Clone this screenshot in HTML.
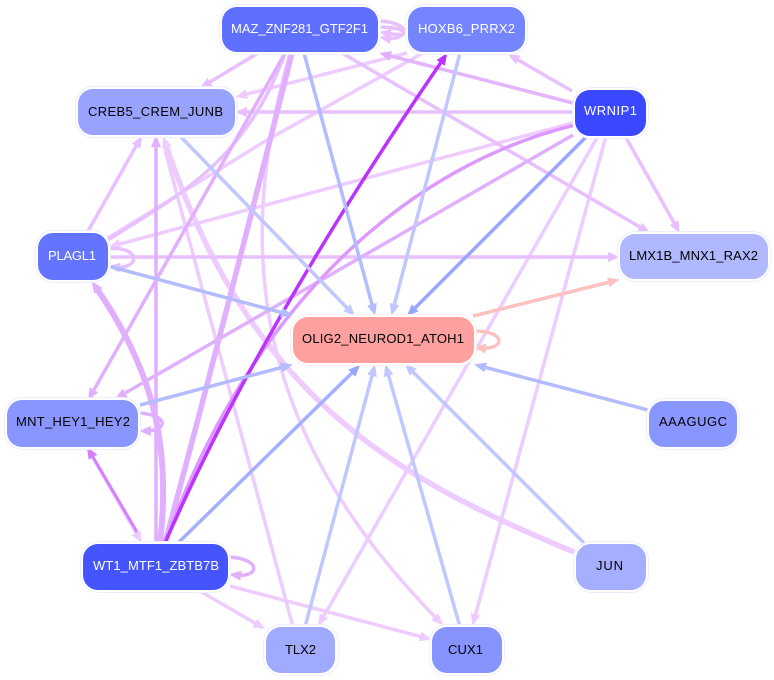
<!DOCTYPE html>
<html><head><meta charset="utf-8"><style>
html,body{margin:0;padding:0;background:#fff}
svg{display:block}
text{font-family:"Liberation Sans",sans-serif;font-size:13px;text-anchor:start}
.e{fill:none;stroke-linecap:butt}
</style></head><body>
<svg width="774" height="680" viewBox="0 0 774 680" xmlns="http://www.w3.org/2000/svg">
<defs>
<marker id="a" markerUnits="userSpaceOnUse" markerWidth="13" markerHeight="11" refX="6" refY="5" orient="auto"><path d="M0 0L12 5L0 10z" fill="#e8c0ff"/></marker>
<marker id="b" markerUnits="userSpaceOnUse" markerWidth="13" markerHeight="11" refX="6" refY="5" orient="auto"><path d="M0 0L12 5L0 10z" fill="#eeccff"/></marker>
<marker id="c" markerUnits="userSpaceOnUse" markerWidth="13" markerHeight="11" refX="6" refY="5" orient="auto"><path d="M0 0L12 5L0 10z" fill="#e0b0ff"/></marker>
<marker id="d" markerUnits="userSpaceOnUse" markerWidth="13" markerHeight="11" refX="6" refY="5" orient="auto"><path d="M0 0L12 5L0 10z" fill="#d580ff"/></marker>
<marker id="e" markerUnits="userSpaceOnUse" markerWidth="13" markerHeight="11" refX="6" refY="5" orient="auto"><path d="M0 0L12 5L0 10z" fill="#bb33ff"/></marker>
<marker id="f" markerUnits="userSpaceOnUse" markerWidth="13" markerHeight="11" refX="6" refY="5" orient="auto"><path d="M0 0L12 5L0 10z" fill="#b3bcff"/></marker>
<marker id="g" markerUnits="userSpaceOnUse" markerWidth="13" markerHeight="11" refX="6" refY="5" orient="auto"><path d="M0 0L12 5L0 10z" fill="#c0c8ff"/></marker>
<marker id="h" markerUnits="userSpaceOnUse" markerWidth="13" markerHeight="11" refX="6" refY="5" orient="auto"><path d="M0 0L12 5L0 10z" fill="#9aa5ff"/></marker>
<marker id="i" markerUnits="userSpaceOnUse" markerWidth="13" markerHeight="11" refX="6" refY="5" orient="auto"><path d="M0 0L12 5L0 10z" fill="#ffc0c0"/></marker>
</defs>

<!-- lightest purple -->
<g class="e" stroke="#eeccff" stroke-width="3.500">
<path d="M407 53L241 95.500" marker-end="url(#b)"/>
<path d="M598 136L321 621" marker-end="url(#b)"/>
<path d="M293 627L165 150"/>
<path d="M290 53C240 230 240 420 439 621" marker-end="url(#b)"/>
<path d="M573 123L114 245.500" marker-end="url(#b)"/>
<path d="M574 552C400 480 250 400 165 142" stroke-width="5.500" marker-end="url(#b)"/>
<path d="M198 590L260 626" marker-end="url(#b)"/>
<path d="M230 586L426 638" marker-end="url(#b)"/>
<path d="M423 53L267 140L108 238"/>
<path d="M88 449L139 538" marker-end="url(#b)"/>
<path d="M606 136L474 620" marker-end="url(#b)"/>
</g>

<!-- medium light purple -->
<g class="e" stroke="#e8c0ff" stroke-width="3.500">
<path d="M258 53L205 85" marker-end="url(#a)"/>
<path d="M573 112L241 112" marker-end="url(#a)"/>
<path d="M572 91L513 57" marker-end="url(#a)"/>
<path d="M342 53L645 230" marker-end="url(#a)"/>
<path d="M625 136L677 228" marker-end="url(#a)"/>
<path d="M87 233L139 141" marker-end="url(#a)"/>
<path d="M108 257L614 257" marker-end="url(#a)"/>
<path d="M108 249C140 245 142 270 114 267" marker-end="url(#a)"/>
<path d="M378 21C400 22 408 30 403 34C398 39 390 39 385 38" marker-end="url(#a)"/>
<path d="M378 27C395 27 405 30 404 33C402 36 392 34 385 33" marker-end="url(#a)"/>
<path d="M108 240C170 200 245 165 285 53"/>
</g>

<!-- medium purple -->
<g class="e" stroke="#e0b0ff" stroke-width="3.500">
<path d="M573 103L385 54.500" stroke="#e4b4ff" marker-end="url(#c)"/>
<path d="M156 543L156 141" marker-end="url(#c)"/>
<path d="M160 543C172 440 150 365 95 286" stroke-width="6" marker-end="url(#c)"/>
<path d="M165 543Q225 320 292 53" stroke-width="5.500"/>
<path d="M285 53L91 395" marker-end="url(#c)"/>
<path d="M573 135L120 396" marker-end="url(#c)"/>
<path d="M575 125C430 160 260 280 165 543" stroke="#dd99ff"/>
<path d="M139 413C170 415 168 431 145 431" marker-end="url(#c)"/>
<path d="M229 557C262 559 260 578 235 575" marker-end="url(#c)"/>
</g>

<!-- strong purple -->
<path class="e" d="M137 532L90 452" stroke="#d580ff" stroke-width="3" marker-end="url(#d)"/>
<path class="e" d="M165 543C225 405 320 238 444 58" stroke="#bb33ff" stroke-width="3.500" marker-end="url(#e)"/>

<!-- blue -->
<g class="e" stroke="#b3bcff" stroke-width="3.500">
<path d="M304 53L373.500 310" marker-end="url(#f)"/>
<path d="M108 266L287 314" marker-end="url(#f)"/>
<path d="M140 405L287 366" marker-end="url(#f)"/>
<path d="M648 410L480 366" marker-end="url(#f)"/>
</g>
<g class="e" stroke="#c0c8ff" stroke-width="3.500">
<path d="M180 136L351 312" marker-end="url(#g)"/>
<path d="M460 53L393 310" marker-end="url(#g)"/>
<path d="M305 627L373.500 370" marker-end="url(#g)"/>
<path d="M460 627L387 370" marker-end="url(#g)"/>
<path d="M585 544L409 368" marker-end="url(#g)"/>
</g>
<g class="e" stroke="#9aa5ff" stroke-width="3.500">
<path d="M587 136L411 312" marker-end="url(#h)"/>
</g>
<path class="e" d="M178 543L356 369" stroke="#a5afff" stroke-width="3.500" marker-end="url(#h)"/>

<!-- pink -->
<g class="e" stroke="#ffc0c0" stroke-width="3.500">
<path d="M473 316L614 281" marker-end="url(#i)"/>
<path d="M475 331C506 331 506 350 480 348" marker-end="url(#i)"/>
</g>

<!-- nodes -->
<g stroke="#eceeff" stroke-width="1" fill="#fff">
<rect x="219.500" y="4.500" width="161" height="50" rx="18"/>
<rect x="405.500" y="4.500" width="122" height="50" rx="18"/>
<rect x="75.500" y="86.500" width="162" height="51" rx="18"/>
<rect x="572.500" y="87.500" width="76" height="51" rx="18"/>
<rect x="35.500" y="230.500" width="75" height="52" rx="18"/>
<rect x="617.500" y="231.500" width="153" height="50" rx="18"/>
<rect x="290.500" y="314.500" width="186" height="51" rx="18" stroke="#fff0f0"/>
<rect x="4.500" y="397.500" width="136" height="52" rx="18"/>
<rect x="646.500" y="398.500" width="93" height="51" rx="18"/>
<rect x="80.500" y="541.500" width="150" height="51" rx="18"/>
<rect x="573.500" y="541.500" width="75" height="51" rx="18"/>
<rect x="263.500" y="624.500" width="75" height="51" rx="18"/>
<rect x="429.500" y="624.500" width="75" height="51" rx="18"/>
</g>
<g>
<rect x="222" y="7" width="156" height="45" rx="15" fill="#5f6fff"/>
<rect x="408" y="7" width="117" height="45" rx="15" fill="#7584ff"/>
<rect x="78" y="89" width="157" height="46" rx="15" fill="#98a3ff"/>
<rect x="575" y="90" width="71" height="46" rx="15" fill="#3a48ff"/>
<rect x="38" y="233" width="70" height="47" rx="15" fill="#6474ff"/>
<rect x="620" y="234" width="148" height="45" rx="15" fill="#b0b9ff"/>
<rect x="293" y="317" width="181" height="46" rx="15" fill="#ffa0a0"/>
<rect x="7" y="400" width="131" height="47" rx="15" fill="#8a96ff"/>
<rect x="649" y="401" width="88" height="46" rx="15" fill="#8a96ff"/>
<rect x="83" y="544" width="145" height="46" rx="15" fill="#4455ff"/>
<rect x="576" y="544" width="70" height="46" rx="15" fill="#a5aeff"/>
<rect x="266" y="627" width="69" height="46" rx="15" fill="#a0abff"/>
<rect x="432" y="627" width="70" height="46" rx="15" fill="#8793ff"/>
</g>
<g fill="#fff">
<text x="231" y="33" textLength="137" lengthAdjust="spacing">MAZ_ZNF281_GTF2F1</text>
<text x="418" y="33" textLength="97" lengthAdjust="spacing">HOXB6_PRRX2</text>
<text x="584" y="115" textLength="53" lengthAdjust="spacing">WRNIP1</text>
<text x="48" y="260" textLength="48" lengthAdjust="spacing">PLAGL1</text>
<text x="93" y="570" textLength="126" lengthAdjust="spacing">WT1_MTF1_ZBTB7B</text>
</g>
<g fill="#000">
<text x="88" y="116" textLength="135" lengthAdjust="spacing">CREB5_CREM_JUNB</text>
<text x="629" y="260" textLength="129" lengthAdjust="spacing">LMX1B_MNX1_RAX2</text>
<text x="302" y="343" textLength="162" lengthAdjust="spacing">OLIG2_NEUROD1_ATOH1</text>
<text x="16" y="426" textLength="114" lengthAdjust="spacing">MNT_HEY1_HEY2</text>
<text x="659" y="426" textLength="68" lengthAdjust="spacing">AAAGUGC</text>
<text x="596" y="570" textLength="27" lengthAdjust="spacing">JUN</text>
<text x="285" y="654" textLength="31" lengthAdjust="spacing">TLX2</text>
<text x="448" y="654" textLength="35" lengthAdjust="spacing">CUX1</text>
</g>
</svg>
</body></html>
